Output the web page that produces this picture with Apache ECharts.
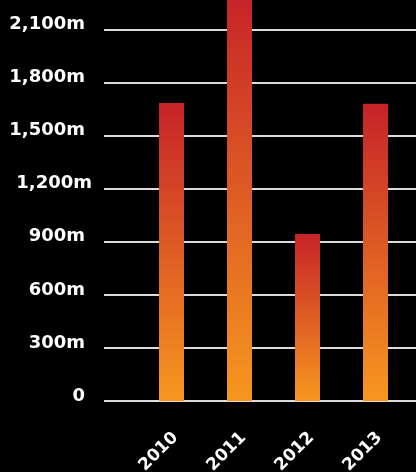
<!DOCTYPE html>
<html>
<head>
<meta charset="utf-8">
<script src="https://cdn.jsdelivr.net/npm/echarts@6/dist/echarts.min.js"></script>
<style>
html,body{margin:0;padding:0;background:#000;}
#c{width:416px;height:472px;}
</style>
</head>
<body>
<div id="c"></div>
<script>
const categories = ['2010', '2011', '2012', '2013'];
const values = [1685, 2300, 944, 1680];
const yMin = 0, yMax = 2400, yStep = 300;

const chart = echarts.init(document.getElementById('c'));
const font = 'DejaVu Sans';
const fmtNum = v => (v === 0 ? '0' : v.toLocaleString('en-US') + 'm');
const lblStyle = { color: '#fff', fontFamily: font, fontWeight: 'bold', fontSize: 18 };

chart.setOption({
  backgroundColor: '#000',
  animation: false,
  grid: [
    { left: 104, right: 0, top: -23.6, bottom: 71, containLabel: false, outerBoundsMode: 'none' },
    { left: 137.5, right: 6.5, top: -23.6, bottom: 71, containLabel: false, outerBoundsMode: 'none' }
  ],
  xAxis: [
    { type: 'category', gridIndex: 0, data: categories, show: false },
    {
      type: 'category', gridIndex: 1, data: categories,
      axisLine: { show: false }, axisTick: { show: false },
      axisLabel: {
        rotate: 45, color: '#fff', fontFamily: font, fontWeight: 'bold',
        fontSize: 17, margin: 30, interval: 0, verticalAlign: 'top', lineHeight: 11
      }
    }
  ],
  yAxis: [
    {
      type: 'value', gridIndex: 0, min: yMin, max: yMax, interval: yStep,
      axisLine: { show: false }, axisTick: { show: false },
      splitLine: { lineStyle: { color: '#dcdcdc', width: 2 } },
      axisLabel: Object.assign({}, lblStyle, {
        margin: 12, verticalAlign: 'middle', padding: [0, 0, 10, 0],
        formatter: v => (v === 1200 ? '{a|' + fmtNum(v) + '}' : '{b|' + fmtNum(v) + '}'),
        rich: {
          a: Object.assign({}, lblStyle),
          b: Object.assign({}, lblStyle, { padding: [0, 7, 0, 0] })
        }
      })
    },
    { type: 'value', gridIndex: 1, min: yMin, max: yMax, interval: yStep, show: false, splitLine: { show: false } }
  ],
  series: [{
    type: 'bar', xAxisIndex: 1, yAxisIndex: 1, data: values, barWidth: 25,
    itemStyle: {
      color: new echarts.graphic.LinearGradient(0, 0, 0, 1, [
        { offset: 0, color: '#c62328' },
        { offset: 1, color: '#f7971f' }
      ])
    }
  }]
});
</script>
</body>
</html>
